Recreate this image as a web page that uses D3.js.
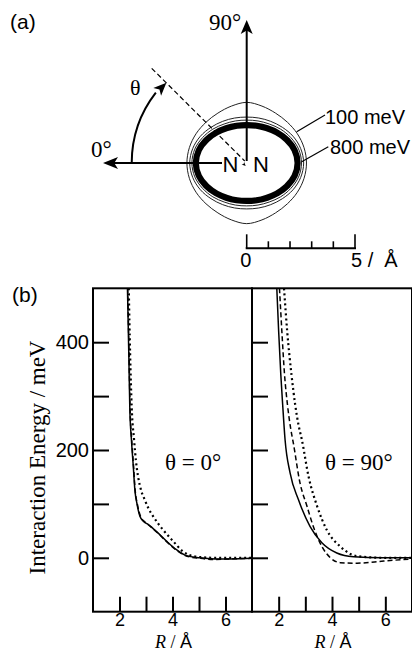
<!DOCTYPE html>
<html>
<head>
<meta charset="utf-8">
<title>N2 interaction energy</title>
<script src="https://d3js.org/d3.v7.min.js"></script>
<style>
  body { margin: 0; background: #fff; }
  svg { display: block; }
  .sans { font-family: "Liberation Sans", Arial, Helvetica, sans-serif; }
  .serif { font-family: "Liberation Serif", "Times New Roman", serif; }
</style>
</head>
<body>
<svg id="chart" width="412" height="652"></svg>
<script>
// ---- panel (a): contour radii (Å) at quarter angles, mirrored to the full loop
const contourAngles = [0, 15, 30, 45, 60, 75, 90];
const contourLevels = [100, 200, 300, 400, 500, 600, 700, 800];
const r100 = [2.76, 2.74, 2.70, 2.66, 2.66, 2.72, 2.80];
const r200 = [2.63, 2.58, 2.47, 2.33, 2.22, 2.15, 2.12];
const r300 = [2.53, 2.48, 2.35, 2.21, 2.08, 2.01, 1.98];
const r400 = [2.44, 2.38, 2.24, 2.08, 1.95, 1.87, 1.84];
const r500 = [2.40, 2.34, 2.19, 2.03, 1.90, 1.82, 1.80];
const r600 = [2.35, 2.29, 2.15, 1.99, 1.86, 1.78, 1.75];
const r700 = [2.30, 2.24, 2.10, 1.94, 1.81, 1.73, 1.71];
const r800 = [2.26, 2.20, 2.05, 1.89, 1.76, 1.69, 1.66];
const contourRadii = [r100, r200, r300, r400, r500, r600, r700, r800];
const scaleTicks = [0, 1, 2, 3, 4, 5];

// ---- panel (b): interaction energy curves, theta = 0
const r0Solid  = [2.30, 2.35, 2.39, 2.45, 2.52, 2.58, 2.66, 2.77, 2.90, 3.08, 3.39, 3.77, 4.15, 4.52, 5.02, 5.6, 6.2, 7.0];
const e0Solid  = [500, 380, 275, 219, 170, 126, 100, 77, 68, 62, 49, 31, 15, 4, 0, -2, -2, -1];
const r0Dashed = [2.31, 2.36, 2.40, 2.46, 2.53, 2.59, 2.68, 2.80, 2.95, 3.12, 3.42, 3.80, 4.18, 4.55, 5.05, 5.6, 6.2, 7.0];
const e0Dashed = [500, 380, 275, 219, 170, 126, 98, 76, 67, 60, 47, 29, 13, 3, -1, -3, -2, -1];
const r0Dotted = [2.35, 2.40, 2.46, 2.55, 2.62, 2.70, 2.80, 2.95, 3.10, 3.27, 3.45, 3.64, 4.02, 4.39, 4.90, 5.6, 6.3, 7.0];
const e0Dotted = [500, 380, 280, 219, 180, 151, 128, 108, 91, 77, 64, 52, 31, 12, 2, 0, 0, 0];

// theta = 90
const r90Solid  = [1.93, 2.00, 2.08, 2.15, 2.24, 2.43, 2.74, 3.18, 3.62, 4.18, 4.81, 5.9, 7.0];
const e90Solid  = [500, 420, 340, 284, 219, 157, 108, 58, 28, 9, 2, 0, 0];
const r90Dashed = [2.03, 2.12, 2.22, 2.33, 2.45, 2.55, 2.80, 3.06, 3.30, 3.62, 3.94, 4.31, 4.94, 5.94, 7.0];
const e90Dashed = [500, 420, 340, 284, 240, 213, 139, 96, 58, 21, 0, -9, -10, -6, -2];
const r90Dotted = [2.20, 2.32, 2.48, 2.62, 2.75, 2.87, 3.12, 3.44, 3.80, 4.31, 4.94, 5.94, 7.0];
const e90Dotted = [500, 420, 340, 284, 245, 219, 151, 96, 52, 21, 3, 0, 0];

const yTicks = [0, 100, 200, 300, 400];
const xTicks = [2, 3, 4, 5, 6];

const svg = d3.select("#chart");

// ================= panel (a) =================
const cx = 246.7, cy = 163;
const aScale = d3.scaleLinear().domain([0, 5]).range([0, 108.3]);

function loopPoints(radii) {
  const pts = [];
  const n = contourAngles.length;
  for (let i = 0; i < n; i++) pts.push([contourAngles[i], radii[i]]);
  for (let i = n - 2; i >= 0; i--) pts.push([180 - contourAngles[i], radii[i]]);
  for (let i = 1; i < n; i++) pts.push([180 + contourAngles[i], radii[i]]);
  for (let i = n - 2; i >= 1; i--) pts.push([360 - contourAngles[i], radii[i]]);
  return pts.map(([a, r]) => {
    const t = a * Math.PI / 180;
    return [cx + aScale(r) * Math.cos(t), cy - aScale(r) * Math.sin(t)];
  });
}
const loopLine = d3.line().curve(d3.curveCatmullRomClosed);

svg.append("g").selectAll("path")
  .data(contourLevels)
  .join("path")
  .attr("d", (d, i) => loopLine(loopPoints(contourRadii[i])))
  .attr("fill", "none")
  .attr("stroke", d => d >= 400 ? "#000" : "#222")
  .attr("stroke-width", d => d >= 400 ? 2.3 : 1);

// arrows
function arrowHead(g, tipX, tipY, angleDeg, len, half) {
  const t = angleDeg * Math.PI / 180;
  const bx = tipX - len * Math.cos(t), by = tipY - len * Math.sin(t);
  const px = -Math.sin(t) * half, py = Math.cos(t) * half;
  g.append("path")
    .attr("d", `M${tipX},${tipY}L${bx + px},${by + py}L${bx + len * 0.25 * Math.cos(t)},${by + len * 0.25 * Math.sin(t)}L${bx - px},${by - py}Z`)
    .attr("fill", "#000");
}
const ga = svg.append("g").attr("stroke-linecap", "butt");
// vertical (90 deg)
ga.append("line").attr("x1", cx).attr("y1", cy - 2).attr("x2", cx).attr("y2", 28)
  .attr("stroke", "#000").attr("stroke-width", 2);
arrowHead(ga, cx, 20, -90, 14, 6);
// horizontal (0 deg)
ga.append("line").attr("x1", 222).attr("y1", cy).attr("x2", 112).attr("y2", cy)
  .attr("stroke", "#000").attr("stroke-width", 2);
arrowHead(ga, 103, cy, 180, 15, 6);
// dashed theta direction
ga.append("line").attr("x1", 151.7).attr("y1", 68.3).attr("x2", cx - 2).attr("y2", cy - 2)
  .attr("stroke", "#000").attr("stroke-width", 1.2).attr("stroke-dasharray", "5,3");
arrowHead(ga, cx - 1, cy + 3, 45, 4, 1.8);
// theta arc
const arcR = 115;
const arcPath = d3.path();
arcPath.arc(cx, cy, arcR, Math.PI, Math.PI + Math.PI * 0.21, false);
ga.append("path").attr("d", arcPath.toString()).attr("fill", "none")
  .attr("stroke", "#000").attr("stroke-width", 2);
{
  const t = Math.PI + Math.PI * 0.25;
  arrowHead(ga, cx + arcR * Math.cos(t) + 1, cy + arcR * Math.sin(t) + 1, -45, 13, 5.5);
}

// labels panel (a)
svg.append("text").attr("class", "sans").attr("x", 10).attr("y", 29)
  .attr("font-size", 21).text("(a)");
svg.append("text").attr("class", "serif").attr("x", 209).attr("y", 30)
  .attr("font-size", 23).text("90°");
svg.append("text").attr("class", "serif").attr("x", 91).attr("y", 157)
  .attr("font-size", 23).text("0°");
svg.append("text").attr("class", "serif").attr("x", 130).attr("y", 95)
  .attr("font-size", 22).text("θ");
svg.append("text").attr("class", "sans").attr("x", 230.5).attr("y", 172)
  .attr("font-size", 22).attr("text-anchor", "middle").text("N");
svg.append("text").attr("class", "sans").attr("x", 261).attr("y", 172)
  .attr("font-size", 22).attr("text-anchor", "middle").text("N");

// leader lines
svg.append("line").attr("x1", 296.7).attr("y1", 131.7).attr("x2", 325).attr("y2", 115)
  .attr("stroke", "#000").attr("stroke-width", 1.2);
svg.append("line").attr("x1", 301.7).attr("y1", 161.7).attr("x2", 328.3).attr("y2", 146.7)
  .attr("stroke", "#000").attr("stroke-width", 1.2);
svg.append("text").attr("class", "sans").attr("x", 325).attr("y", 124)
  .attr("font-size", 20).text("100 meV");
svg.append("text").attr("class", "sans").attr("x", 330).attr("y", 154)
  .attr("font-size", 20).text("800 meV");

// scale bar
const barY = 248.3;
const gb = svg.append("g").attr("stroke", "#000").attr("stroke-width", 2);
gb.append("line").attr("x1", cx - 1).attr("x2", cx + aScale(5) + 1).attr("y1", barY).attr("y2", barY);
gb.selectAll(".sb").data(scaleTicks).join("line")
  .attr("x1", d => cx + aScale(d)).attr("x2", d => cx + aScale(d))
  .attr("y1", barY).attr("y2", d => (d === 0 || d === 5) ? barY - 14 : barY - 7)
  .attr("stroke-width", 1.6);
svg.append("text").attr("class", "sans").attr("x", cx - 1).attr("y", 267)
  .attr("font-size", 20).attr("text-anchor", "middle").text("0");
svg.append("text").attr("class", "sans").attr("x", 351).attr("y", 267)
  .attr("font-size", 20).attr("xml:space", "preserve").text("5 /  Å");

// ================= panel (b) =================
const plotTop = 288.3, plotBottom = 611.7;
const y = d3.scaleLinear().domain([-100, 500]).range([plotBottom, plotTop]);
const x1 = d3.scaleLinear().domain([1, 7]).range([93, 252]);
const x2 = d3.scaleLinear().domain([1, 7]).range([252, 412]);

svg.append("text").attr("class", "sans").attr("x", 12).attr("y", 302)
  .attr("font-size", 21).text("(b)");

function drawPanel(x, curves, label, labelX, showYLabels) {
  const g = svg.append("g");
  g.append("defs").append("clipPath").attr("id", "clip" + labelX)
    .append("rect").attr("x", x.range()[0]).attr("y", plotTop)
    .attr("width", x.range()[1] - x.range()[0]).attr("height", plotBottom - plotTop);

  const line = d3.line().x(d => x(d[0])).y(d => y(d[1])).curve(d3.curveMonotoneX);
  g.append("g").attr("clip-path", `url(#clip${labelX})`)
    .selectAll("path").data(curves).join("path")
    .attr("d", c => line(d3.zip(c.r, c.e)))
    .attr("fill", "none").attr("stroke", "#000")
    .attr("stroke-width", c => c.style === "dotted" ? 2.2 : 1.5)
    .attr("stroke-dasharray", c => c.style === "dashed" ? "5,3" : c.style === "dotted" ? "2,3" : null);

  const yAxis = g.append("g").attr("transform", `translate(${x.range()[0]},0)`)
    .call(d3.axisLeft(y).tickValues(yTicks).tickSize(-16).tickPadding(4)
      .tickFormat(d => showYLabels && d % 200 === 0 ? d : ""));
  const xAxis = g.append("g").attr("transform", `translate(0,${plotBottom})`)
    .call(d3.axisBottom(x).tickValues(xTicks).tickSize(-15).tickPadding(2)
      .tickFormat(d => d % 2 === 0 ? d : ""));
  [yAxis, xAxis].forEach(ax => {
    ax.select(".domain").remove();
    ax.selectAll("line").attr("stroke-width", 2);
    ax.selectAll("text").attr("class", "sans").attr("fill", "#000");
  });
  yAxis.selectAll("text").attr("font-size", 20);
  xAxis.selectAll("text").attr("font-size", 18);

  g.append("rect").attr("x", x.range()[0]).attr("y", plotTop)
    .attr("width", x.range()[1] - x.range()[0]).attr("height", plotBottom - plotTop)
    .attr("fill", "none").attr("stroke", "#000").attr("stroke-width", 2);

  g.append("text").attr("class", "serif").attr("x", labelX).attr("y", 470)
    .attr("font-size", 23).text(label);

  const xl = g.append("text").attr("x", (x.range()[0] + x.range()[1]) / 2 + 1).attr("y", 648)
    .attr("text-anchor", "middle").attr("font-size", 18);
  xl.append("tspan").attr("class", "serif").attr("font-style", "italic").text("R");
  xl.append("tspan").attr("class", "serif").text(" / ");
  xl.append("tspan").attr("class", "sans").text("Å");
}

drawPanel(x1, [
  { r: r0Solid, e: e0Solid, style: "solid" },
  { r: r0Dashed, e: e0Dashed, style: "dashed" },
  { r: r0Dotted, e: e0Dotted, style: "dotted" }
], "θ = 0°", 165, true);

drawPanel(x2, [
  { r: r90Solid, e: e90Solid, style: "solid" },
  { r: r90Dashed, e: e90Dashed, style: "dashed" },
  { r: r90Dotted, e: e90Dotted, style: "dotted" }
], "θ = 90°", 325, false);

svg.append("text").attr("class", "serif")
  .attr("transform", "translate(45,457.5) rotate(-90)")
  .attr("text-anchor", "middle").attr("font-size", 23)
  .text("Interaction Energy / meV");
</script>
</body>
</html>
